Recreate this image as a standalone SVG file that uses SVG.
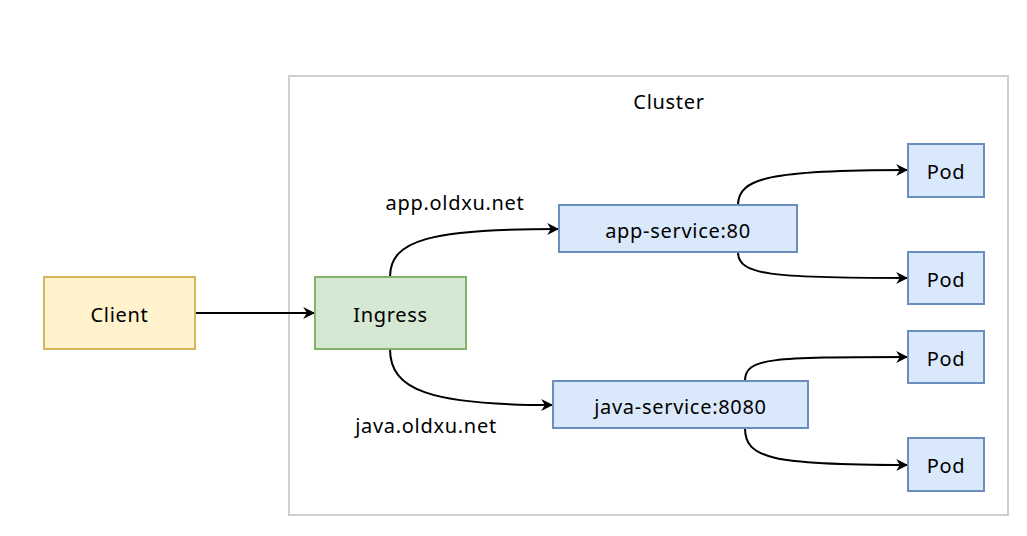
<svg xmlns="http://www.w3.org/2000/svg" width="1027" height="536" viewBox="0 0 1027 536">
<style>
text{font-family:"Comic Sans MS","Noto Sans","DejaVu Sans",sans-serif;font-size:20px;letter-spacing:0.7px;fill:#000;text-anchor:middle;dominant-baseline:central}
.svc{fill:#dae8fc;stroke:#6c8ebf;stroke-width:2}
.edge{fill:none;stroke:#000;stroke-width:2;marker-end:url(#arr)}
</style>
<defs>
<marker id="arr" viewBox="0 0 10 10" refX="9" refY="5" markerWidth="12" markerHeight="12" markerUnits="userSpaceOnUse" orient="auto">
<path d="M0,0 L10,5 L0,10 L3,5 Z" fill="#000"/>
</marker>
</defs>
<rect width="1027" height="536" fill="#fff"/>
<g id="cluster">
<rect x="289" y="76" width="719" height="439" fill="#fff" stroke="#cfcfcf" stroke-width="2"/>
<text x="669" y="101">Cluster</text>
</g>
<g id="connectors">
<path class="edge" d="M195,313 L314,313"/>
<path class="edge" d="M390,277 C390,240 430,229 558,229"/>
<path class="edge" d="M390,349 C390,390 430,405 552,405"/>
<path class="edge" d="M738,205 C738,178 770,170 907,170"/>
<path class="edge" d="M738,252 C738,275 770,278 907,278"/>
<path class="edge" d="M745,381 C745,358 770,357 907,357"/>
<path class="edge" d="M745,428 C745,458 770,465 907,465"/>
<text x="455" y="202">app.oldxu.net</text>
<text x="426" y="425">java.oldxu.net</text>
</g>
<g id="client">
<rect x="44" y="277" width="151" height="72" fill="#fff2cc" stroke="#d6b656" stroke-width="2"/>
<text x="119.5" y="314">Client</text>
</g>
<g id="ingress">
<rect x="315" y="277" width="151" height="72" fill="#d5e8d4" stroke="#82b366" stroke-width="2"/>
<text x="390.5" y="314">Ingress</text>
</g>
<g id="app-service">
<rect class="svc" x="559" y="205" width="238" height="47"/>
<text x="678" y="230">app-service:80</text>
</g>
<g id="java-service">
<rect class="svc" x="553" y="381" width="255" height="47"/>
<text x="680.5" y="406">java-service:8080</text>
</g>
<g id="pod1">
<rect class="svc" x="908" y="144" width="76" height="53"/>
<text x="946" y="171.5">Pod</text>
</g>
<g id="pod2">
<rect class="svc" x="908" y="252" width="76" height="52"/>
<text x="946" y="279">Pod</text>
</g>
<g id="pod3">
<rect class="svc" x="908" y="331" width="76" height="52"/>
<text x="946" y="358">Pod</text>
</g>
<g id="pod4">
<rect class="svc" x="908" y="438" width="76" height="53"/>
<text x="946" y="465.5">Pod</text>
</g>
</svg>
